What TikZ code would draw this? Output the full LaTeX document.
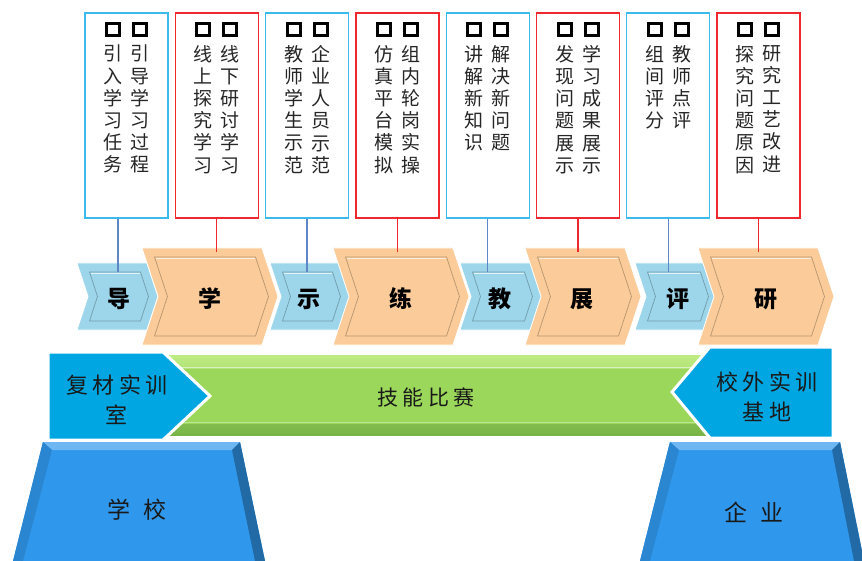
\documentclass[tikz,border=0pt]{standalone}
\usepackage{fontspec}
\newfontfamily\cjk{Noto Sans CJK SC}
\usetikzlibrary{calc}
\definecolor{boxblue}{RGB}{60,186,236}
\definecolor{boxred}{RGB}{240,40,45}
\definecolor{conblue}{RGB}{95,135,200}
\definecolor{chevblue}{RGB}{157,214,234}
\definecolor{chevorange}{RGB}{251,204,153}
\definecolor{pentcyan}{RGB}{0,166,226}
\definecolor{trapblue}{RGB}{48,152,236}
\definecolor{barg}{RGB}{155,215,90}
\definecolor{barlight}{RGB}{190,236,130}
\definecolor{bardark}{RGB}{120,180,70}
\newcommand\gp{\hspace{4.5pt}}
\tikzset{
  topbox/.style={draw, line width=1.3pt, minimum width=83pt, minimum height=205pt, inner sep=0pt, fill=white},
  bbox/.style={topbox, draw=boxblue},
  rbox/.style={topbox, draw=boxred},
  tofu/.style={draw=black, line width=3pt, minimum width=13pt, minimum height=12pt, inner sep=0pt},
  vcol/.style={font=\cjk\fontsize{19}{22.2}\selectfont, align=center, inner sep=0pt, anchor=north, text=black!85},
  conb/.style={draw=conblue, line width=1.3pt},
  conr/.style={draw=boxred, line width=1.3pt},
  chevlabel/.style={font=\cjk\bfseries\fontsize{23}{23}\selectfont, inner sep=0pt, text=black},
  biglabel/.style={font=\cjk\fontsize{22}{30}\selectfont, align=center, inner sep=0pt, text=black!90},
}
\newcommand\chevshape[6]{%
  \pgfmathsetmacro\cxa{#1}\pgfmathsetmacro\cxb{#1+#3}%
  \pgfmathsetmacro\cxc{#1+#3+#5}\pgfmathsetmacro\cxd{#1+#5}%
  \pgfmathsetmacro\cyt{#2}\pgfmathsetmacro\cyb{#2+#4}\pgfmathsetmacro\cym{#2+#4/2}%
  \fill[#6, draw=white, line width=0.8pt] (\cxa,\cyt) -- (\cxb,\cyt) -- (\cxc,\cym) -- (\cxb,\cyb) -- (\cxa,\cyb) -- (\cxd,\cym) -- cycle;
  \pgfmathsetmacro\ia{#1+12.5}\pgfmathsetmacro\ib{#1+#3-6.5}%
  \pgfmathsetmacro\ic{#1+#3+#5-9.5}\pgfmathsetmacro\id{#1+#5+9.5}%
  \pgfmathsetmacro\iyt{#2+9}\pgfmathsetmacro\iyb{#2+#4-9}%
  \draw[#6!55!black, line width=0.7pt, opacity=0.6] (\ia,\iyt) -- (\ib,\iyt) -- (\ic,\cym) -- (\ib,\iyb) -- (\ia,\iyb) -- (\id,\cym) -- cycle;
  \draw[white, opacity=0.7, line width=0.9pt] (\ia+1,\iyt+1.3) -- (\ib-0.5,\iyt+1.3);
}
\newcommand\tbox[5]{%
  \node[#3] (b#1) at (#2,115.5) {};
  \node[tofu] (q#1r) at (#2+13.5,29.5) {};
  \node[tofu] (q#1l) at (#2-13.5,29.5) {};
  \node[vcol] (r#1) at (#2+13.5,45) {#4};
  \node[vcol] (l#1) at (#2-13.5,45) {#5};
}
\begin{document}
\begin{tikzpicture}[x=1pt,y=-1pt]
\useasboundingbox (0,0) rectangle (862,561);
\fill[white] (0,0) rectangle (862,561);

% ---- top boxes ----
\tbox{1}{126.5}{bbox}{引\\导\\学\\习\\过\\程}{引\\入\\学\\习\\任\\务}
\tbox{2}{216.8}{rbox}{线\\下\\研\\讨\\学\\习}{线\\上\\探\\究\\学\\习}
\tbox{3}{307.1}{bbox}{企\\业\\人\\员\\示\\范}{教\\师\\学\\生\\示\\范}
\tbox{4}{397.4}{rbox}{组\\内\\轮\\岗\\实\\操}{仿\\真\\平\\台\\模\\拟}
\tbox{5}{487.7}{bbox}{解\\决\\新\\问\\题}{讲\\解\\新\\知\\识}
\tbox{6}{578.0}{rbox}{学\\习\\成\\果\\展\\示}{发\\现\\问\\题\\展\\示}
\tbox{7}{668.3}{bbox}{教\\师\\点\\评}{组\\间\\评\\分}
\tbox{8}{758.6}{rbox}{研\\究\\工\\艺\\改\\进}{探\\究\\问\\题\\原\\因}

% ---- chevrons ----
\chevshape{77}{263}{70}{67}{11}{chevblue}
\chevshape{270}{263}{69}{67}{11}{chevblue}
\chevshape{460}{263}{71}{67}{11}{chevblue}
\chevshape{635}{263}{72}{67}{11}{chevblue}
\chevshape{142}{248}{120}{97}{16}{chevorange}
\chevshape{333}{248}{120}{97}{16}{chevorange}
\chevshape{525}{248}{100}{97}{16}{chevorange}
\chevshape{698}{248}{120}{97}{16}{chevorange}

\node[chevlabel] (c1) at (119,299) {导};
\node[chevlabel] (c2) at (210,299) {学};
\node[chevlabel] (c3) at (309,299) {示};
\node[chevlabel] (c4) at (401,299) {练};
\node[chevlabel] (c5) at (500,299) {教};
\node[chevlabel] (c6) at (582,299) {展};
\node[chevlabel] (c7) at (678,299) {评};
\node[chevlabel] (c8) at (766,299) {研};

% ---- connectors ----
\coordinate (t1) at (118,272);
\coordinate (t2) at (216.8,252);
\coordinate (t3) at (307.1,272);
\coordinate (t4) at (397.4,252);
\coordinate (t5) at (487.7,272);
\coordinate (t6) at (578.0,252);
\coordinate (t7) at (668.3,272);
\coordinate (t8) at (758.6,252);
\draw[conb] (b1.south -| t1) -- (t1);
\draw[conr] (b2.south) -- (t2);
\draw[conb] (b3.south) -- (t3);
\draw[conr] (b4.south) -- (t4);
\draw[conb] (b5.south) -- (t5);
\draw[conr] (b6.south) -- (t6);
\draw[conb] (b7.south) -- (t7);
\draw[conr] (b8.south) -- (t8);

% ---- green bar ----
\shade[top color=barlight, middle color=barg, bottom color=bardark] (150,355) rectangle (720,435);
\fill[barg] (150,369) rectangle (720,424);
\draw[white, opacity=0.5, line width=1pt] (150,367) -- (720,367);
\draw[white, opacity=0.35, line width=1pt] (150,422) -- (720,422);
\node[biglabel, font=\cjk\fontsize{21}{21}\selectfont] (skill) at (426,397) {技\gp 能\gp 比\gp 赛};

% ---- trapezoids ----
\fill[trapblue] (43,442) -- (240,442) -- (265,561) -- (13,561) -- cycle;
\fill[trapblue!70!white] (43,442) -- (240,442) -- (232,450) -- (52,450) -- cycle;
\fill[trapblue!70!black] (240,442) -- (265,561) -- (255,561) -- (232,450) -- cycle;
\fill[trapblue!88!black] (43,442) -- (52,450) -- (23,561) -- (13,561) -- cycle;
\fill[trapblue] (670,442) -- (840,442) -- (864,561) -- (640,561) -- cycle;
\fill[trapblue!70!white] (670,442) -- (840,442) -- (832,450) -- (679,450) -- cycle;
\fill[trapblue!70!black] (840,442) -- (864,561) -- (854,561) -- (832,450) -- cycle;
\fill[trapblue!88!black] (670,442) -- (679,450) -- (650,561) -- (640,561) -- cycle;
\node[biglabel, font=\cjk\fontsize{23}{23}\selectfont] (school) at (137,510) {学\hspace{13pt}校};
\node[biglabel, font=\cjk\fontsize{23}{23}\selectfont] (firm) at (754,512) {企\hspace{13pt}业};

% ---- pentagons ----
\fill[pentcyan, draw=white, line width=3pt, line join=miter] (48,352) -- (163,352) -- (210,396) -- (163,440) -- (48,440) -- cycle;
\fill[pentcyan, draw=white, line width=3pt, line join=miter] (833,347) -- (710,347) -- (672,392) -- (710,438) -- (833,438) -- cycle;
\node[biglabel] (lab1) at (117,400) {复\gp 材\gp 实\gp 训\\室};
\node[biglabel] (lab2) at (767,397) {校\gp 外\gp 实\gp 训\\基\gp 地};
\end{tikzpicture}
\end{document}
